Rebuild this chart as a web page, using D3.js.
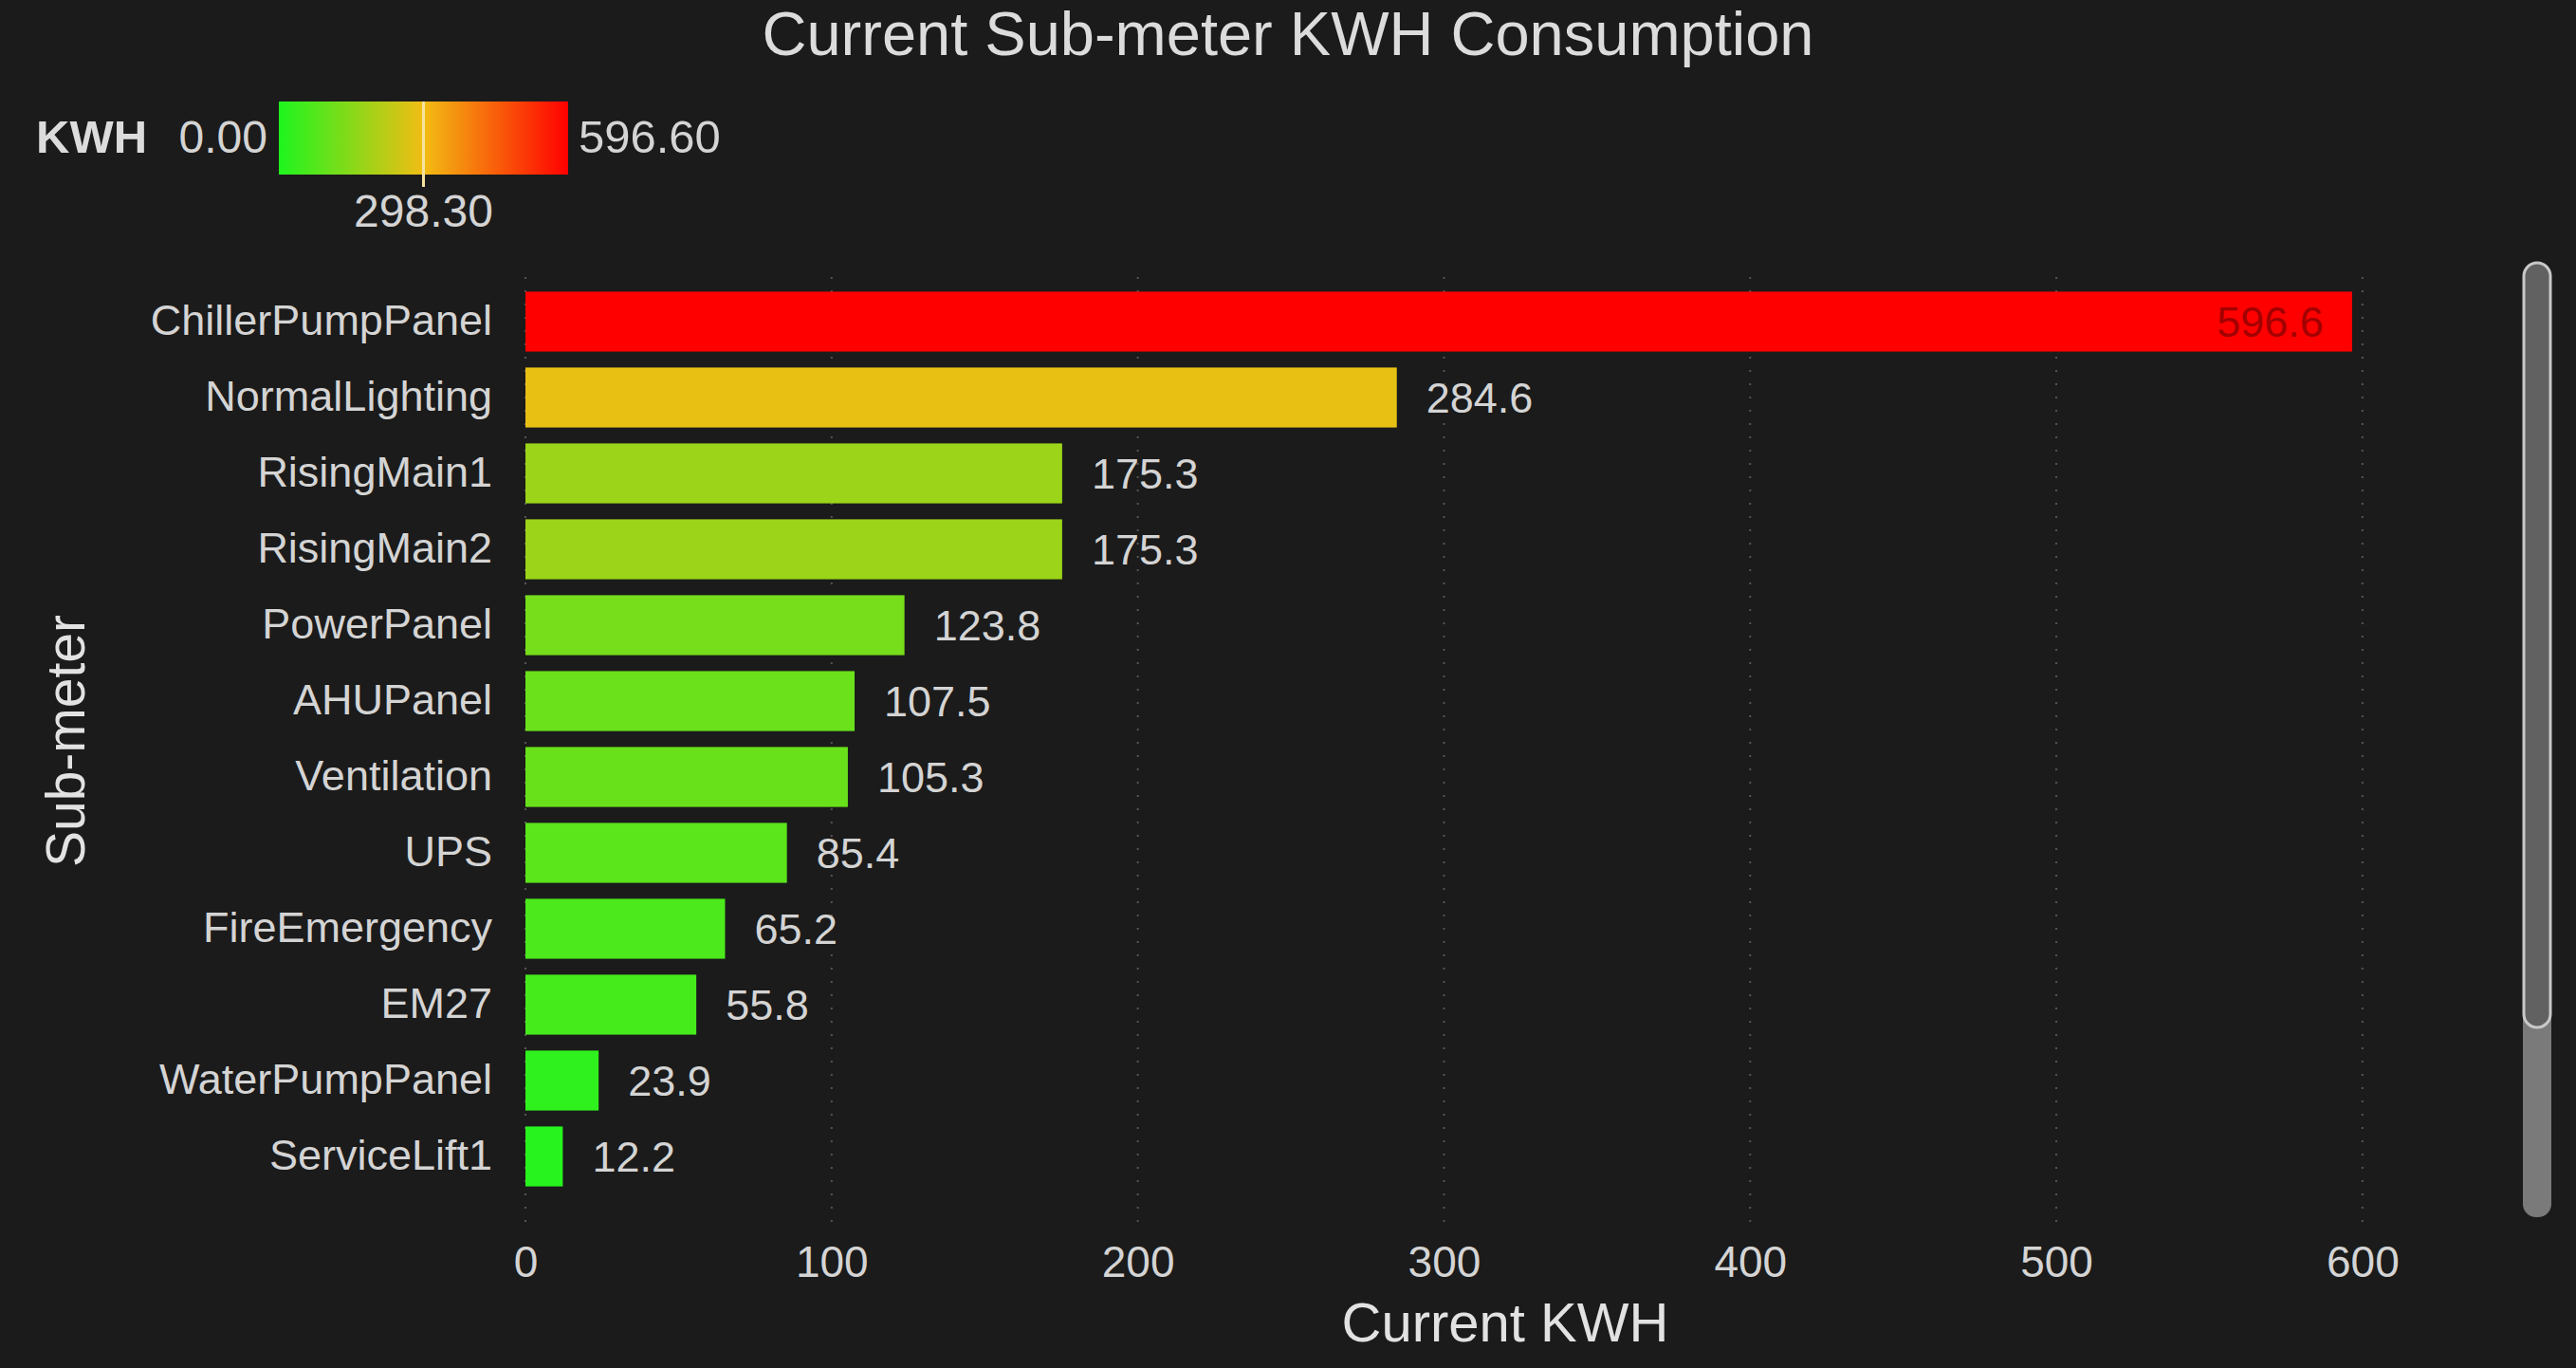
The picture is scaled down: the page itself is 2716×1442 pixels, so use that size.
<!DOCTYPE html>
<html>
<head>
<meta charset="utf-8">
<script src="https://cdn.jsdelivr.net/npm/d3@7"></script>
<style>
  html, body { margin: 0; padding: 0; background: #1b1b1b; }
  svg { display: block; }
  text { font-family: "Liberation Sans", Arial, sans-serif; }
</style>
</head>
<body>
<svg id="chart" width="2716" height="1442"></svg>
<script>
// ---- data ----
const categories = ["ChillerPumpPanel", "NormalLighting", "RisingMain1", "RisingMain2", "PowerPanel",
  "AHUPanel", "Ventilation", "UPS", "FireEmergency", "EM27", "WaterPumpPanel", "ServiceLift1"];
const values = [596.6, 284.6, 175.3, 175.3, 123.8, 107.5, 105.3, 85.4, 65.2, 55.8, 23.9, 12.2];
const xTicks = [0, 100, 200, 300, 400, 500, 600];
const legendStops = [0, 298.3, 596.6];
const legendColors = ["#1ef51e", "#f2bd14", "#ff0000"];
const titleText = "Current Sub-meter KWH Consumption";
const xTitle = "Current KWH";
const yTitle = "Sub-meter";
const legendTitle = "KWH";

// ---- layout ----
const W = 2716, H = 1442;
const plot = { left: 554, right: 2620, top: 299, bottom: 1259 };
const svg = d3.select("#chart");
svg.append("rect").attr("x", 0).attr("y", 0).attr("width", W).attr("height", H).attr("fill", "#1b1b1b");

const x = d3.scaleLinear().domain([0, 640]).range([plot.left, plot.right]);
const y = d3.scaleBand().domain(categories).range([plot.top, plot.bottom]).paddingInner(0.21).paddingOuter(0.105);
const color = d3.scaleLinear().domain(legendStops).range(legendColors).interpolate(d3.interpolateRgb);

// title
svg.append("text").attr("x", W / 2).attr("y", 58).attr("text-anchor", "middle")
  .attr("font-size", 65).attr("fill", "#dcdcdc").text(titleText);

// grid lines
svg.append("g").selectAll("line").data(xTicks).join("line")
  .attr("x1", d => x(d)).attr("x2", d => x(d))
  .attr("y1", 292).attr("y2", 1292)
  .attr("stroke", "#555555").attr("stroke-width", 2).attr("stroke-dasharray", "2,12");

// x axis
const xAxis = svg.append("g").attr("transform", `translate(0, 1300)`)
  .call(d3.axisBottom(x).tickValues(xTicks).tickSize(0).tickPadding(0));
xAxis.select(".domain").remove();
xAxis.selectAll("text").attr("font-size", 46).attr("fill", "#d4d4d4")
  .attr("dy", "0.9em").attr("y", 5).style("font-family", "'Liberation Sans', Arial, sans-serif");

// y axis
const yAxis = svg.append("g").attr("transform", `translate(${plot.left}, 0)`)
  .call(d3.axisLeft(y).tickSize(0).tickPadding(35));
yAxis.select(".domain").remove();
yAxis.selectAll("text").attr("font-size", 45).attr("fill", "#d4d4d4")
  .style("font-family", "'Liberation Sans', Arial, sans-serif");

// bars
const rows = categories.map((c, i) => ({ c, v: values[i] }));
svg.append("g").selectAll("rect").data(rows).join("rect")
  .attr("x", x(0)).attr("y", d => y(d.c))
  .attr("width", d => x(d.v) - x(0)).attr("height", y.bandwidth())
  .attr("fill", d => color(d.v));

// value labels
svg.append("g").selectAll("text").data(rows).join("text")
  .attr("font-size", 45)
  .attr("y", d => y(d.c) + y.bandwidth() / 2)
  .attr("dy", "0.35em")
  .each(function (d) {
    const inside = x(d.v) + 31 + 120 > plot.right;
    d3.select(this)
      .attr("x", inside ? x(d.v) - 30 : x(d.v) + 31)
      .attr("text-anchor", inside ? "end" : "start")
      .attr("fill", inside ? "#a30000" : "#d4d4d4")
      .text(d3.format(".1f")(d.v));
  });

// axis titles
svg.append("text").attr("x", 1587).attr("y", 1414).attr("text-anchor", "middle")
  .attr("font-size", 58).attr("fill", "#e2e2e2").text(xTitle);
svg.append("text").attr("transform", `translate(89, 781) rotate(-90)`).attr("text-anchor", "middle")
  .attr("font-size", 57).attr("fill", "#e2e2e2").text(yTitle);

// legend
const leg = { x0: 294, x1: 599, y0: 107, y1: 184 };
const lx = d3.scaleLinear().domain([legendStops[0], legendStops[2]]).range([leg.x0, leg.x1]);
const defs = svg.append("defs");
const grad = defs.append("linearGradient").attr("id", "lg").attr("x1", "0%").attr("x2", "100%");
grad.selectAll("stop").data(legendStops).join("stop")
  .attr("offset", d => (d / legendStops[2] * 100) + "%")
  .attr("stop-color", d => color(d));
svg.append("rect").attr("x", leg.x0).attr("y", leg.y0).attr("width", leg.x1 - leg.x0).attr("height", leg.y1 - leg.y0)
  .attr("fill", "url(#lg)");
svg.append("line").attr("x1", lx(legendStops[1])).attr("x2", lx(legendStops[1]))
  .attr("y1", leg.y0).attr("y2", 197).attr("stroke", "#f5e3a0").attr("stroke-width", 3);
svg.append("text").attr("x", 38).attr("y", 161).attr("font-size", 49).attr("font-weight", "bold")
  .attr("fill", "#dcdcdc").text(legendTitle);
svg.append("text").attr("x", lx(legendStops[0]) - 12).attr("y", 161).attr("text-anchor", "end")
  .attr("font-size", 48).attr("fill", "#d4d4d4").text(d3.format(".2f")(legendStops[0]));
svg.append("text").attr("x", lx(legendStops[2]) + 11).attr("y", 161).attr("text-anchor", "start")
  .attr("font-size", 49).attr("fill", "#d4d4d4").text(d3.format(".2f")(legendStops[2]));
svg.append("text").attr("x", lx(legendStops[1])).attr("y", 239).attr("text-anchor", "middle")
  .attr("font-size", 48).attr("fill", "#d4d4d4").text(d3.format(".2f")(legendStops[1]));

// scrollbar
svg.append("rect").attr("x", 2660).attr("y", 1040).attr("width", 30).attr("height", 243)
  .attr("rx", 14).attr("fill", "#7a7a7a");
svg.append("rect").attr("x", 2661).attr("y", 277).attr("width", 28).attr("height", 806)
  .attr("rx", 14).attr("fill", "#616161").attr("stroke", "#c8c8c8").attr("stroke-width", 3);
</script>
</body>
</html>
